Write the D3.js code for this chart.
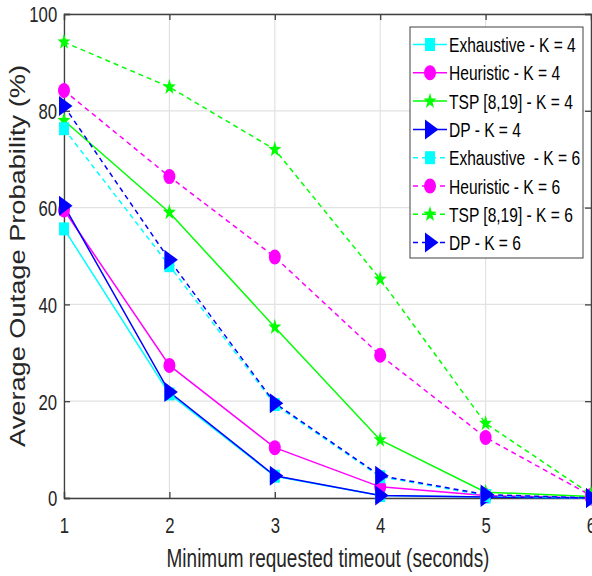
<!DOCTYPE html>
<html><head><meta charset="utf-8">
<script src="https://cdn.jsdelivr.net/npm/d3@7"></script>
<style>body{margin:0;background:#fff}svg{display:block}</style>
</head><body>
<svg id="c" width="592" height="576"></svg>
<script>
const xTicks = [1,2,3,4,5,6];
const yTicks = [0,20,40,60,80,100];
const exhaustiveK4 = [55.6,21.5,4.5,0.5,0.2,0];
const heuristicK4  = [59.5,27.4,10.4,2.3,0.5,0];
const tspK4        = [78.0,59.0,35.3,12.0,1.2,0.3];
const dpK4         = [60.4,21.9,4.6,0.5,0.2,0];
const exhaustiveK6 = [76.3,48.0,19.3,4.4,0.5,0];
const heuristicK6  = [84.2,66.4,49.8,29.5,12.5,0.5];
const tspK6        = [94.2,84.9,72.0,45.2,15.4,0.8];
const dpK6         = [81.0,49.2,19.6,4.6,0.7,0];
const seriesNames = ["Exhaustive - K = 4","Heuristic - K = 4","TSP [8,19] - K = 4","DP - K = 4",
                     "Exhaustive  - K = 6","Heuristic - K = 6","TSP [8,19] - K = 6","DP - K = 6"];

const series = [
  {name:seriesNames[0], v:exhaustiveK4, c:"#00ffff", m:"square", dash:false},
  {name:seriesNames[1], v:heuristicK4, c:"#ff00ff", m:"circle", dash:false},
  {name:seriesNames[2], v:tspK4, c:"#00ff00", m:"star", dash:false},
  {name:seriesNames[3], v:dpK4, c:"#0000ff", m:"tri", dash:false},
  {name:seriesNames[4], v:exhaustiveK6, c:"#00ffff", m:"square", dash:true},
  {name:seriesNames[5], v:heuristicK6, c:"#ff00ff", m:"circle", dash:true},
  {name:seriesNames[6], v:tspK6, c:"#00ff00", m:"star", dash:true},
  {name:seriesNames[7], v:dpK6, c:"#0000ff", m:"tri", dash:true},
];

const svg = d3.select("#c");
const L=64, R=591, T=14, B=498;
const SX = 0.76; // horizontal compression of the reference's text
const x = d3.scaleLinear().domain([1,6]).range([L,R]);
const y = d3.scaleLinear().domain([0,100]).range([B,T]);
const font = "'Liberation Sans',Arial,Helvetica,sans-serif";

// grid
svg.append("g").selectAll("line").data(xTicks).join("line")
  .attr("x1",d=>x(d)).attr("x2",d=>x(d)).attr("y1",T).attr("y2",B)
  .attr("stroke","#e2e2e2").attr("stroke-width",1.2);
svg.append("g").selectAll("line").data(yTicks).join("line")
  .attr("x1",L).attr("x2",R).attr("y1",d=>y(d)).attr("y2",d=>y(d))
  .attr("stroke","#e2e2e2").attr("stroke-width",1.2);

// axes
const ax = svg.append("g").attr("transform",`translate(0,${B})`)
  .call(d3.axisBottom(x).tickValues(xTicks).tickSize(-6).tickPadding(19).tickFormat(d3.format("d")));
const ay = svg.append("g").attr("transform",`translate(${L},0)`)
  .call(d3.axisLeft(y).tickValues(yTicks).tickSize(-6).tickPadding(9).tickFormat(d3.format("d")));
const axT = svg.append("g").attr("transform",`translate(0,${T})`)
  .call(d3.axisTop(x).tickValues(xTicks).tickSize(-6).tickFormat(""));
const ayR = svg.append("g").attr("transform",`translate(${R},0)`)
  .call(d3.axisRight(y).tickValues(yTicks).tickSize(-6).tickFormat(""));
[ax,ay,axT,ayR].forEach(g=>{
  g.selectAll("path").attr("stroke","#404040").attr("stroke-width",1.3);
  g.selectAll("line").attr("stroke","#404040").attr("stroke-width",1.3);
  g.selectAll("text").attr("fill","#262626").style("font-family",font).style("font-size","22px")
    .attr("transform",`scale(${SX},1)`);
});
ay.selectAll("text").attr("dy","0.36em");

// lines
const line = d3.line().x((d,i)=>x(xTicks[i])).y(d=>y(d));
const plot = svg.append("g");
series.forEach(s=>{
  plot.append("path").datum(s.v).attr("d",line).attr("fill","none")
    .attr("stroke",s.c).attr("stroke-width",1.5)
    .attr("stroke-dasharray",s.dash?"5,4":null);
});

function marker(g, type, c, cx, cy){
  if(type==="square"){
    g.append("rect").attr("x",cx-5).attr("y",cy-6.5).attr("width",10).attr("height",13).attr("fill",c);
  } else if(type==="circle"){
    g.append("ellipse").attr("cx",cx).attr("cy",cy).attr("rx",6).attr("ry",7.5).attr("fill",c);
  } else if(type==="star"){
    const pts=[];
    for(let k=0;k<10;k++){
      const a=-Math.PI/2+k*Math.PI/5, r=k%2?3.2:8;
      pts.push([cx+r*Math.cos(a)*0.85, cy+r*Math.sin(a)*1.05]);
    }
    g.append("polygon").attr("points",pts.map(p=>p.join(",")).join(" ")).attr("fill",c);
  } else {
    g.append("polygon").attr("points",`${cx-5},${cy-10} ${cx+8.5},${cy} ${cx-5},${cy+10}`).attr("fill",c);
  }
}
series.forEach(s=>{
  const g=plot.append("g");
  s.v.forEach((v,i)=>marker(g,s.m,s.c,x(xTicks[i]),y(v)));
});

// labels
svg.append("text").attr("transform",`translate(328,567) scale(${SX},1)`).attr("text-anchor","middle")
  .attr("fill","#262626").style("font-family",font).style("font-size","25px")
  .text("Minimum requested timeout (seconds)");
svg.append("text").attr("transform",`translate(25,256) rotate(-90)`).attr("text-anchor","middle")
  .attr("fill","#262626").style("font-family",font).style("font-size","22px")
  .attr("textLength",382).attr("lengthAdjust","spacingAndGlyphs")
  .text("Average Outage Probability (%)");

// legend
const lg = svg.append("g");
lg.append("rect").attr("x",410).attr("y",27).attr("width",173).attr("height",231)
  .attr("fill","#fff").attr("stroke","#404040").attr("stroke-width",1);
series.forEach((s,i)=>{
  const yy = 44.5 + i*28.3;
  lg.append("line").attr("x1",413).attr("x2",447).attr("y1",yy).attr("y2",yy)
    .attr("stroke",s.c).attr("stroke-width",1.5).attr("stroke-dasharray",s.dash?"5,4":null);
  marker(lg,s.m,s.c,430,yy);
  lg.append("text").attr("transform",`translate(449,${yy+7.5}) scale(${SX},1)`).attr("fill","#000")
    .style("white-space","pre")
    .style("font-family",font).style("font-size","20.5px").text(s.name);
});
</script>
</body></html>
